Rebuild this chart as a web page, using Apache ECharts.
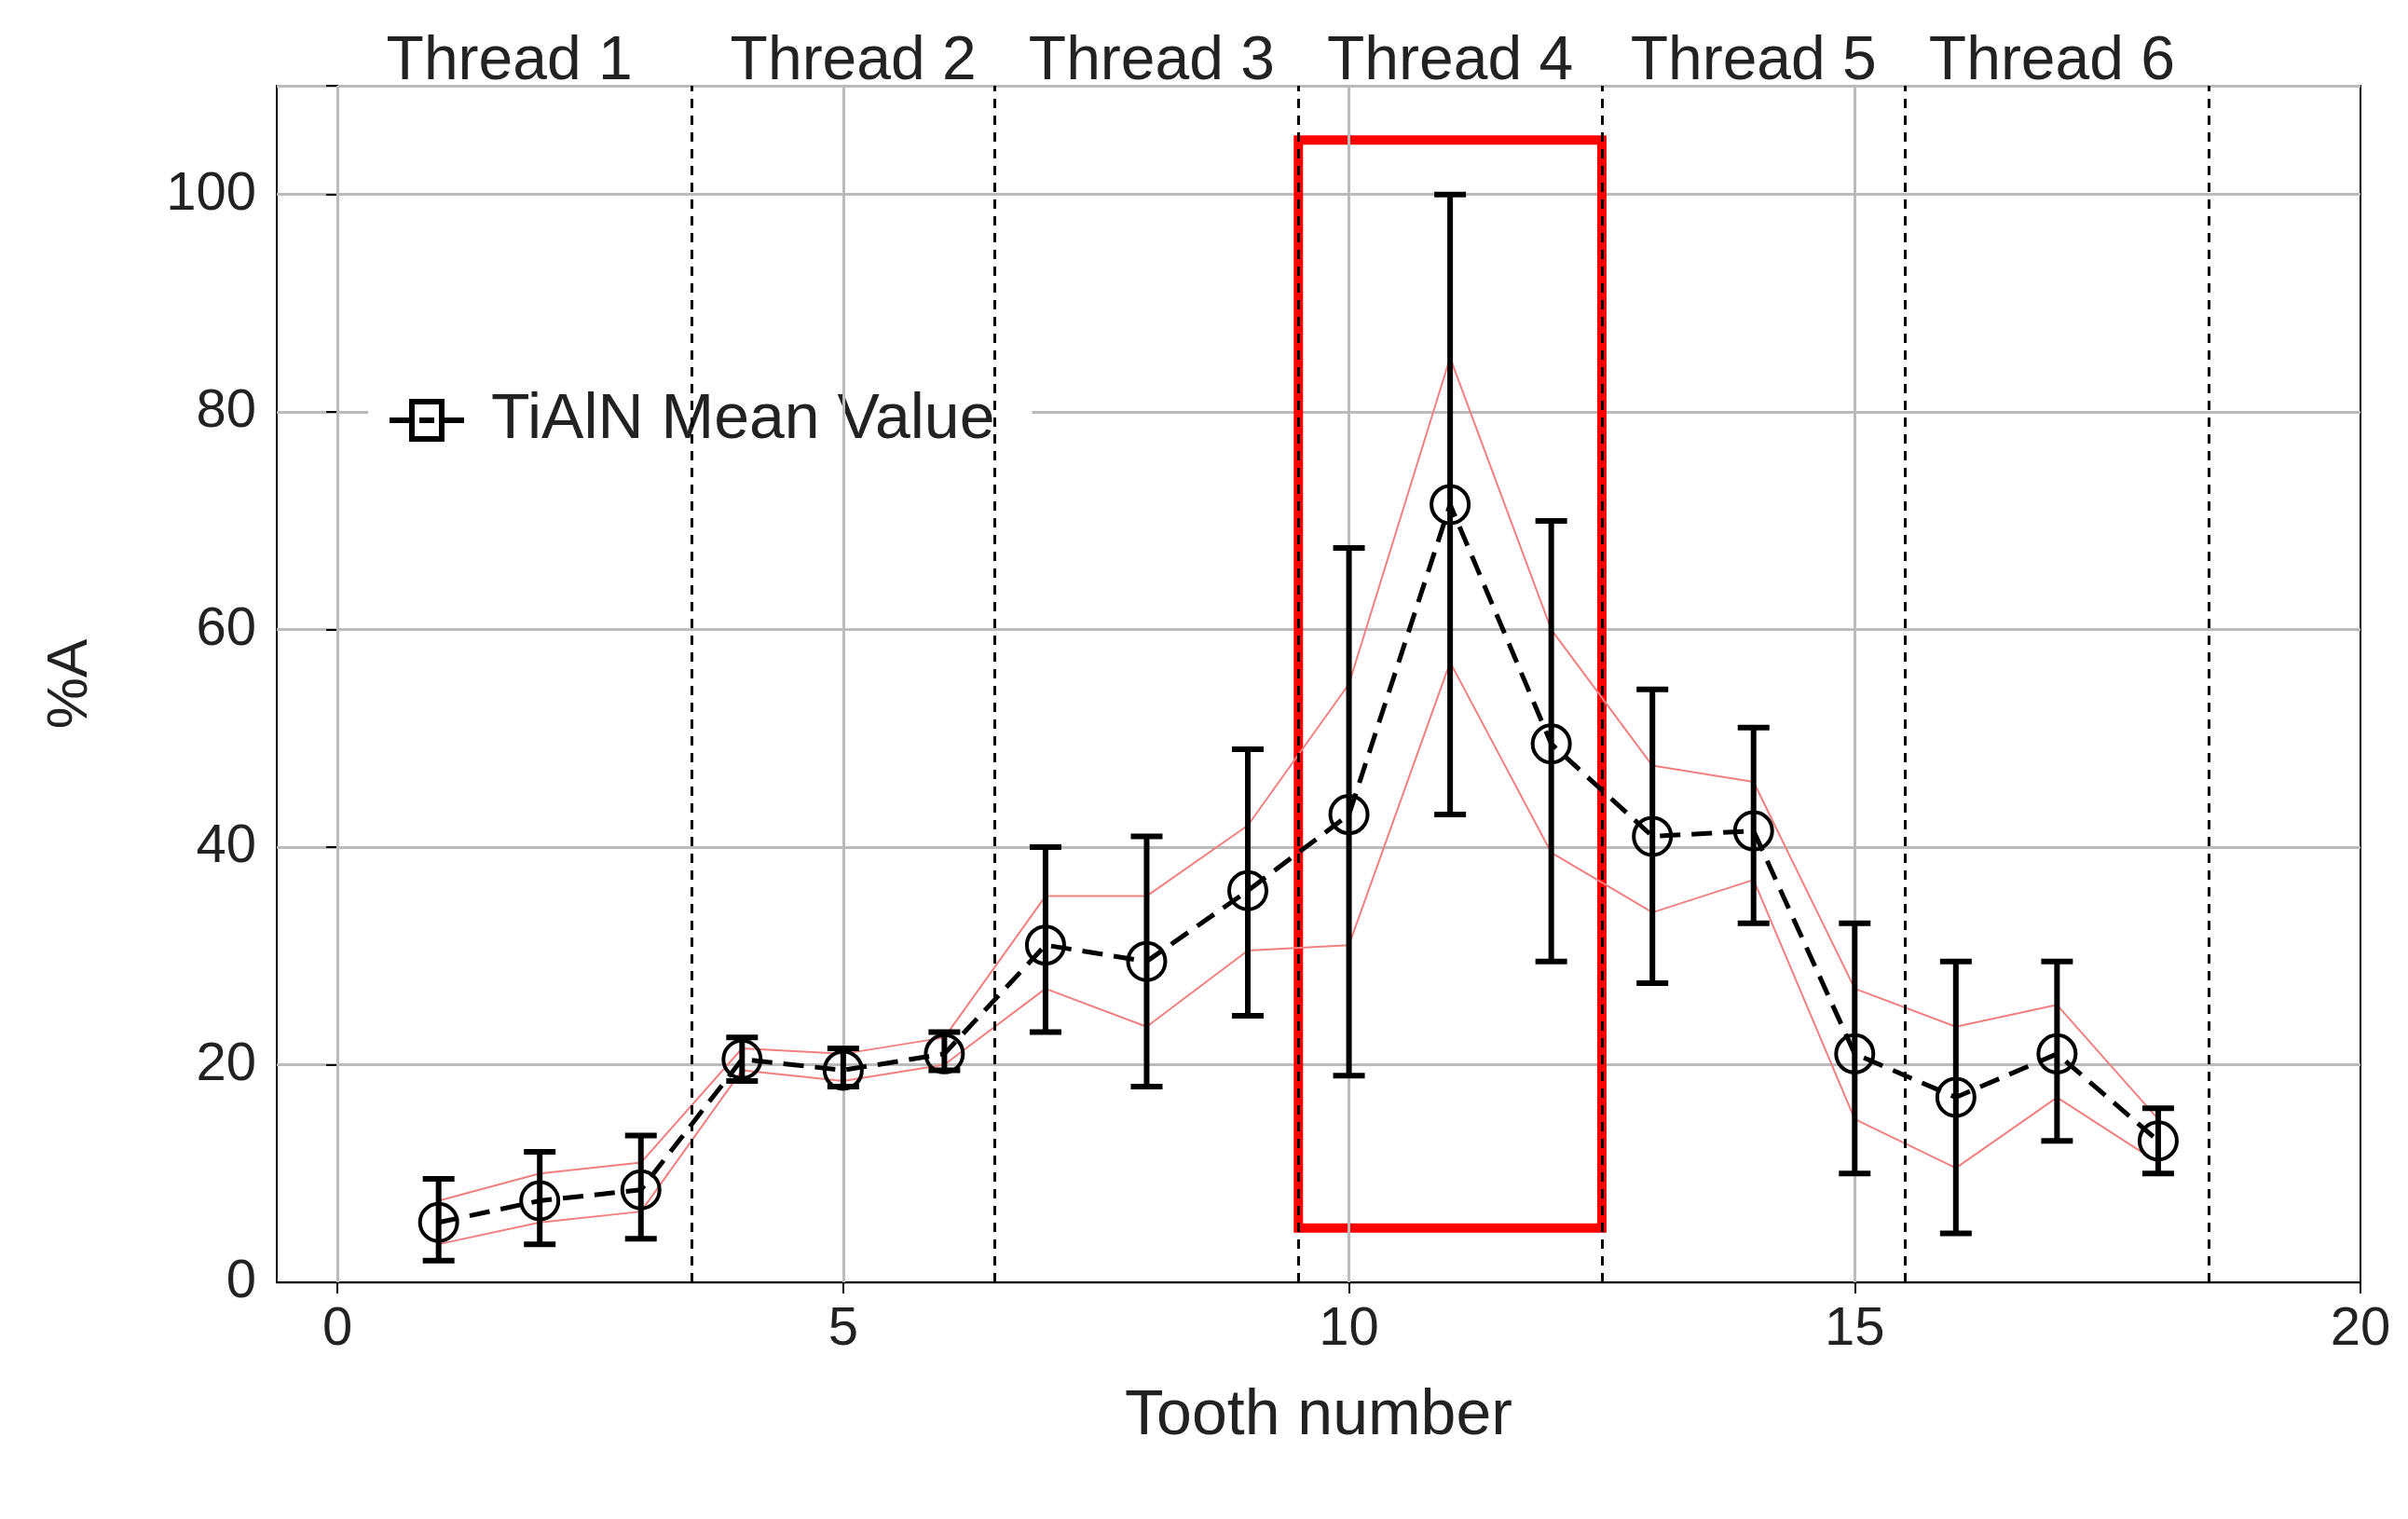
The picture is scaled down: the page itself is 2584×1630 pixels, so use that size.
<!DOCTYPE html>
<html><head><meta charset="utf-8">
<script src="https://cdn.jsdelivr.net/npm/echarts@6/dist/echarts.min.js"></script>
<style>html,body{margin:0;background:#fff}#c{width:2584px;height:1630px}</style>
</head><body><div id="c"></div>
<script>
var teeth = [1,2,3,4,5,6,7,8,9,10,11,12,13,14,15,16,17,18];
var meanVal = [5.5,7.5,8.5,20.5,19.5,21,31,29.5,36,43,71.5,49.5,41,41.5,21,17,21,13];
var errLow  = [2,3.5,4,18.5,18,19.5,23,18,24.5,19,43,29.5,27.5,33,10,4.5,13,10];
var errHigh = [9.5,12,13.5,22.5,21.5,23,40,41,49,67.5,100,70,54.5,51,33,29.5,29.5,16];
var bandHigh = [7.5,10,11,21.5,21,22.5,35.5,35.5,42,55,85,60,47.5,46,27,23.5,25.5,15];
var bandLow  = [3.5,5.5,6.5,19.5,18.5,20,27,23.5,30.5,31,57,39.5,34,37,15,10.5,17,11];
var threadBounds = [3.5,6.5,9.5,12.5,15.5,18.5];
var threadNames = ['Thread 1','Thread 2','Thread 3','Thread 4','Thread 5','Thread 6'];
var threadCenters = [1.7,5.1,8.05,11,14,16.95];
var xTicks = [0,5,10,15,20];
var box = {x0: 9.5, x1: 12.5, y0: 5, y1: 105};

var font = 'Liberation Sans, Arial, sans-serif';
var chart = echarts.init(document.getElementById('c'));
var pair = function (ys) { return teeth.map(function (t, i) { return [t, ys[i]]; }); };

chart.setOption({
  animation: false,
  grid: {left: 297, right: 51, top: 92, bottom: 254, show: true, borderColor: '#000', borderWidth: 2},
  legend: {
    data: [{name: 'TiAlN Mean Value', icon: 'path://M0,45 L30,45 M40,45 L60,45 M70,45 L100,45 M30,20 L70,20 L70,70 L30,70 Z'}],
    left: 395, top: 395, backgroundColor: '#fff', padding: [22, 40, 22, 20],
    itemWidth: 100, itemHeight: 40, itemGap: 10,
    itemStyle: {color: '#fff', borderColor: '#000', borderWidth: 6},
    textStyle: {fontSize: 68, fontFamily: font, color: '#222', padding: [0, 0, 0, 14]}
  },
  xAxis: {
    type: 'value', min: -0.6, max: 20,
    axisLine: {show: true, lineStyle: {color: '#000', width: 2}},
    axisTick: {show: true, customValues: xTicks, length: 12, lineStyle: {color: '#000', width: 2}},
    axisLabel: {customValues: xTicks, fontSize: 58, fontFamily: font, color: '#222', margin: 22},
    splitLine: {show: false},
    name: 'Tooth number', nameLocation: 'middle', nameGap: 110,
    nameTextStyle: {fontSize: 68, fontFamily: font, color: '#222'}
  },
  yAxis: {
    type: 'value', min: 0, max: 110, interval: 20,
    axisLine: {show: true, lineStyle: {color: '#000', width: 2}},
    axisTick: {show: true, length: 12, lineStyle: {color: '#000', width: 2}},
    axisLabel: {fontSize: 58, fontFamily: font, color: '#222', margin: 22,
      formatter: function (v) { return v > 100 ? '' : v; }},
    splitLine: {lineStyle: {color: '#bbb', width: 3}},
    name: '%A', nameLocation: 'middle', nameGap: 190,
    nameTextStyle: {fontSize: 62, fontFamily: font, color: '#222'}
  },
  series: [
    {
      type: 'line', data: [], silent: true,
      markLine: {symbol: 'none', silent: true, label: {show: false},
        lineStyle: {color: '#bbb', width: 3, type: 'solid'},
        data: xTicks.slice(0, 4).map(function (v) { return {xAxis: v}; })}
    },
    {
      type: 'line', data: [], silent: true, z: 3,
      markLine: {symbol: 'none', silent: true, label: {show: false},
        lineStyle: {color: '#000', width: 3, type: [10, 8]},
        data: threadBounds.map(function (v) { return {xAxis: v}; })}
    },
    {type: 'line', data: pair(bandHigh), symbol: 'none', lineStyle: {color: '#f08080', width: 2}, z: 4},
    {type: 'line', data: pair(bandLow), symbol: 'none', lineStyle: {color: '#f08080', width: 2}, z: 4},
    {
      type: 'custom', z: 6,
      data: teeth.map(function (t, i) { return [t, errLow[i], errHigh[i]]; }),
      renderItem: function (params, api) {
        var lo = api.coord([api.value(0), api.value(1)]);
        var hi = api.coord([api.value(0), api.value(2)]);
        var w = 17, st = {stroke: '#000', lineWidth: 6};
        return {type: 'group', children: [
          {type: 'line', shape: {x1: lo[0], y1: lo[1], x2: hi[0], y2: hi[1]}, style: st},
          {type: 'line', shape: {x1: lo[0] - w, y1: lo[1], x2: lo[0] + w, y2: lo[1]}, style: st},
          {type: 'line', shape: {x1: hi[0] - w, y1: hi[1], x2: hi[0] + w, y2: hi[1]}, style: st}
        ]};
      }
    },
    {
      name: 'TiAlN Mean Value', type: 'line', data: pair(meanVal), z: 7,
      symbol: 'circle', symbolSize: 40,
      itemStyle: {color: 'rgba(255,255,255,0)', borderColor: '#000', borderWidth: 4},
      lineStyle: {color: '#000', width: 5, type: [22, 12]},
      markArea: {silent: true,
        itemStyle: {color: 'rgba(0,0,0,0)', borderColor: '#f00', borderWidth: 10},
        data: [[{coord: [box.x0, box.y0]}, {coord: [box.x1, box.y1]}]]}
    }
  ]
});

chart.setOption({graphic: threadNames.map(function (n, i) {
  var p = chart.convertToPixel({gridIndex: 0}, [threadCenters[i], 110]);
  return {type: 'text', x: p[0], y: p[1] + 8,
    style: {text: n, fontSize: 66, fontFamily: font, fill: '#222', align: 'center', verticalAlign: 'bottom'}};
})});
</script></body></html>
